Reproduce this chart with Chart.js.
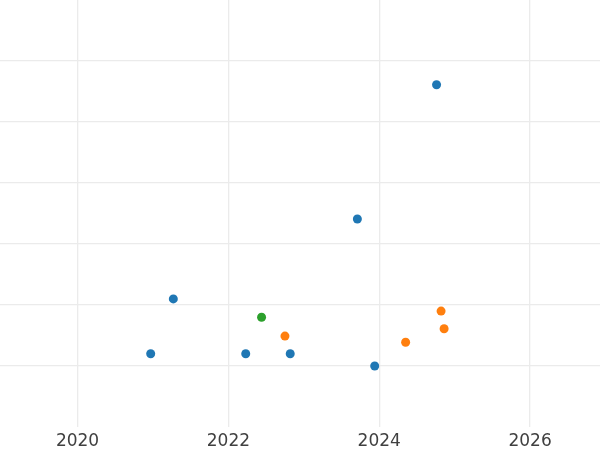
<!DOCTYPE html>
<html>
<head>
<meta charset="utf-8">
<script src="https://cdn.jsdelivr.net/npm/chart.js@4"></script>
<style>
    html, body { margin: 0; padding: 0; background: #fff; }
    #wrap { width: 600px; height: 450px; }
</style>
</head>
<body>
<div id="wrap"><canvas id="scatterChart"></canvas></div>
<script>
// DATA
const blueYears = [2020.97, 2021.27, 2022.23, 2022.82, 2023.71, 2023.94, 2024.76];
const blueValues = [1.2, 2.1, 1.2, 1.2, 3.41, 1.0, 5.61];

const orangeYears = [2022.75, 2024.35, 2024.82, 2024.86];
const orangeValues = [1.49, 1.39, 1.9, 1.61];

const greenYears = [2022.44];
const greenValues = [1.8];

const xTicks = [2020, 2022, 2024, 2026];
const yTicks = [1, 2, 3, 4, 5, 6];

function toPoints(xs, ys) {
    return xs.map((x, i) => ({ x: x, y: ys[i] }));
}

const gridColor = '#ebebeb';

const scatterData = {
    datasets: [
        {
            label: 'blue',
            data: toPoints(blueYears, blueValues),
            backgroundColor: '#1f77b4',
            borderColor: '#1f77b4',
        },
        {
            label: 'orange',
            data: toPoints(orangeYears, orangeValues),
            backgroundColor: '#ff7f0e',
            borderColor: '#ff7f0e',
        },
        {
            label: 'green',
            data: toPoints(greenYears, greenValues),
            backgroundColor: '#2ca02c',
            borderColor: '#2ca02c',
        }
    ]
};

const scatterConfig = {
    type: 'scatter',
    data: scatterData,
    options: {
        responsive: true,
        maintainAspectRatio: false,
        animation: false,
        layout: { padding: 0, autoPadding: false },
        elements: {
            point: { radius: 4.5, borderWidth: 0, hoverRadius: 4.5 }
        },
        plugins: {
            legend: { display: false },
            tooltip: { enabled: false }
        },
        scales: {
            x: {
                type: 'linear',
                min: 2018.972,
                max: 2026.927,
                afterBuildTicks: (scale) => {
                    scale.ticks = xTicks.map(v => ({ value: v }));
                },
                afterFit: (scale) => {
                    scale.height = 23;
                },
                border: { display: false },
                grid: { color: gridColor, lineWidth: 1.3, drawTicks: false },
                ticks: {
                    padding: 4,
                    color: '#404040',
                    font: { family: 'DejaVu Sans', size: 17 },
                    maxRotation: 0,
                    callback: (v) => String(v),
                }
            },
            y: {
                min: 0,
                max: 7,
                afterBuildTicks: (scale) => {
                    scale.ticks = yTicks.map(v => ({ value: v }));
                },
                border: { display: false },
                grid: { color: gridColor, lineWidth: 1.3, drawTicks: false },
                ticks: { display: false }
            }
        }
    }
};

new Chart(document.getElementById('scatterChart'), scatterConfig);
</script>
</body>
</html>
